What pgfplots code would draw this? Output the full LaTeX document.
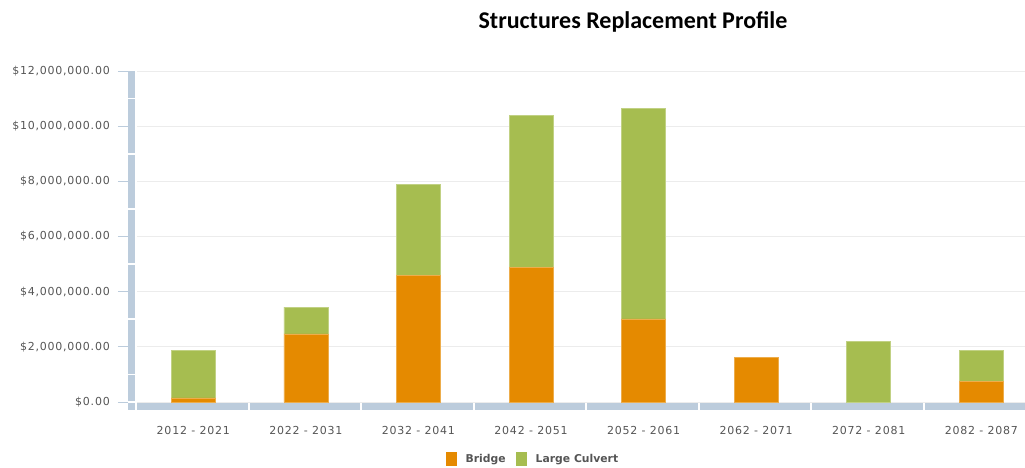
\documentclass[border=0pt]{standalone}
\usepackage{fontspec}
\setmainfont{DejaVu Sans}
\newfontfamily\titlefont{Carlito}
\newfontfamily\tickfont[LetterSpace=7]{DejaVu Sans}
\usepackage{pgfplots}
\pgfplotsset{compat=1.18}

\definecolor{bridge}{RGB}{229,138,0}
\definecolor{culvert}{RGB}{166,189,80}
\definecolor{band}{RGB}{188,204,220}
\definecolor{gridc}{RGB}{236,236,236}
\definecolor{ticktext}{RGB}{85,85,85}

\begin{document}
\begin{tikzpicture}
\path[use as bounding box] (-137pt,-65pt) rectangle (888pt,402pt);
\begin{axis}[
  scale only axis,
  anchor=south west,
  at={(0pt,0pt)},
  width=888pt,
  height=331pt,
  ybar stacked,
  bar width=44pt,
  xmin=-0.5, xmax=7.388,
  ymin=0, ymax=12000000,
  scaled y ticks=false,
  ytick={0,2000000,4000000,6000000,8000000,10000000,12000000},
  yticklabels={{\$0.00},{\$2,000,000.00},{\$4,000,000.00},{\$6,000,000.00},{\$8,000,000.00},{\$10,000,000.00},{\$12,000,000.00}},
  xtick=data,
  xticklabels={2012 - 2021,2022 - 2031,2032 - 2041,2042 - 2051,2052 - 2061,2062 - 2071,2072 - 2081,2082 - 2087},
  axis line style={draw=none},
  major tick length=0pt,
  tick style={draw=none},
  ymajorgrids,
  grid style={gridc, line width=0.8pt},
  yticklabel style={font=\tickfont\fontsize{11}{12}\selectfont, text=ticktext, anchor=east, inner sep=0pt, xshift=-27pt},
  xticklabel style={font=\tickfont\fontsize{11}{12}\selectfont, text=ticktext, anchor=north, inner sep=0pt, yshift=-24pt},
  title={\titlefont\bfseries Structures Replacement Profile},
  title style={at={(0.5586,1)}, anchor=base, yshift=37pt, font=\fontsize{24}{28}\selectfont},
  legend columns=2,
  legend style={at={(0.447,0)}, anchor=north, xshift=-1pt, yshift=-48pt, draw=none, fill=none,
    font=\fontsize{10.8}{12}\selectfont\bfseries, text=ticktext,
    /tikz/every even column/.append style={column sep=8pt}},
  legend image code/.code={\fill[#1, draw=none] (0pt,-7pt) rectangle (11pt,7pt); \path[draw=none, fill=none] (0pt,0pt) -- (18pt,0pt);},
  clip=false,
]
% left band, broken at odd millions
\fill[band] ([xshift=-9pt]axis cs:-0.5,11030000) rectangle ([xshift=-2pt]axis cs:-0.5,12000000);
\fill[band] ([xshift=-9pt]axis cs:-0.5,9030000) rectangle ([xshift=-2pt]axis cs:-0.5,10970000);
\fill[band] ([xshift=-9pt]axis cs:-0.5,7030000) rectangle ([xshift=-2pt]axis cs:-0.5,8970000);
\fill[band] ([xshift=-9pt]axis cs:-0.5,5030000) rectangle ([xshift=-2pt]axis cs:-0.5,6970000);
\fill[band] ([xshift=-9pt]axis cs:-0.5,3030000) rectangle ([xshift=-2pt]axis cs:-0.5,4970000);
\fill[band] ([xshift=-9pt]axis cs:-0.5,1030000) rectangle ([xshift=-2pt]axis cs:-0.5,2970000);
\fill[band] ([xshift=-9pt]axis cs:-0.5,30000) rectangle ([xshift=-2pt]axis cs:-0.5,970000);
\fill[band] ([xshift=-9pt,yshift=-1pt]axis cs:-0.5,0) rectangle ([xshift=-2pt,yshift=-8pt]axis cs:-0.5,0);
% short ticks left of the band
\pgfplotsinvokeforeach{0,2000000,4000000,6000000,8000000,10000000,12000000}{
  \draw[band, line width=0.8pt] ([xshift=-19pt]axis cs:-0.5,#1) -- ([xshift=-9pt]axis cs:-0.5,#1);
}
% bottom band, one segment per category
\pgfplotsinvokeforeach{-0.5,0.5,1.5,2.5,3.5,4.5,5.5}{
  \fill[band] ([yshift=-1pt]axis cs:#1,0) rectangle ([xshift=-2pt,yshift=-8pt]axis cs:#1+1,0);
}
\fill[band] ([yshift=-1pt]axis cs:6.5,0) rectangle ([yshift=-8pt]axis cs:7.388,0);

\addplot[fill=bridge, draw=bridge!70!white, line width=0.6pt] coordinates {
  (0,150000) (1,2470000) (2,4590000) (3,4890000) (4,3010000) (5,1630000) (6,0) (7,760000)};
\addplot[fill=culvert, draw=culvert!70!white, line width=0.6pt] coordinates {
  (0,1730000) (1,970000) (2,3290000) (3,5500000) (4,7620000) (5,0) (6,2210000) (7,1120000)};
\legend{Bridge,Large Culvert}
\end{axis}
\end{tikzpicture}
\end{document}
